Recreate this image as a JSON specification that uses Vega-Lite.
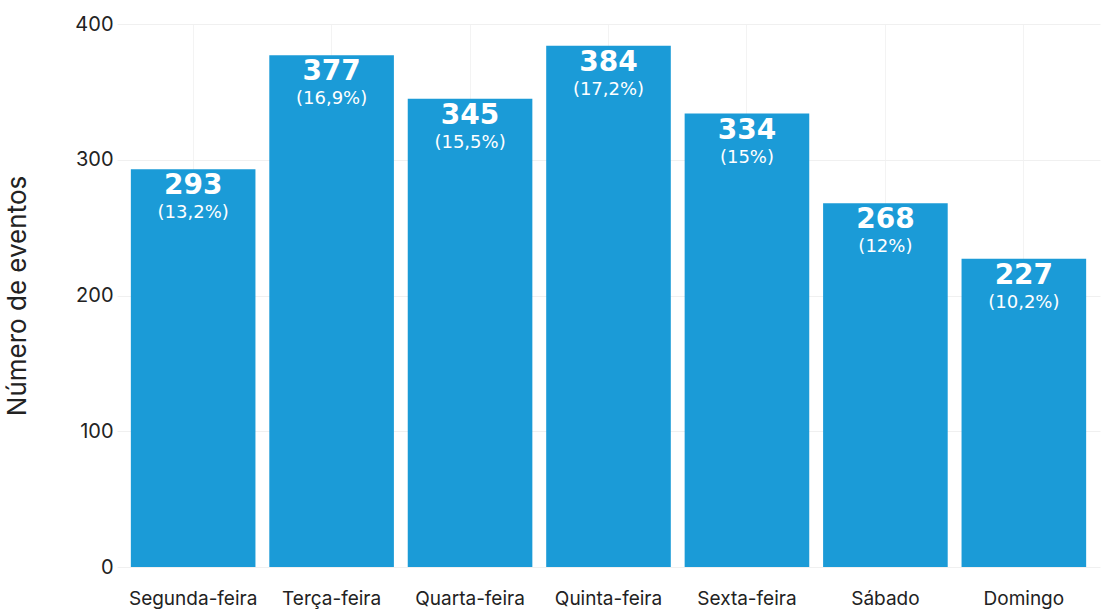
{
  "$schema": "https://vega.github.io/schema/vega-lite/v6.json",
  "width": 983,
  "height": 543,
  "autosize": "none",
  "padding": {"left": 117, "top": 24, "right": 3, "bottom": 46},
  "background": "white",
  "config": {"view": {"stroke": null}, "font": "Inter"},
  "data": {"values": [
    {"dia": "Segunda-feira", "n": 293, "pct": "(13,2%)"},
    {"dia": "Terça-feira", "n": 377, "pct": "(16,9%)"},
    {"dia": "Quarta-feira", "n": 345, "pct": "(15,5%)"},
    {"dia": "Quinta-feira", "n": 384, "pct": "(17,2%)"},
    {"dia": "Sexta-feira", "n": 334, "pct": "(15%)"},
    {"dia": "Sábado", "n": 268, "pct": "(12%)"},
    {"dia": "Domingo", "n": 227, "pct": "(10,2%)"}
  ]},
  "encoding": {
    "x": {"field": "dia", "type": "nominal", "sort": null,
      "scale": {"paddingInner": 0.1, "paddingOuter": 0.1},
      "axis": {"title": null, "labelAngle": 0, "labelFontSize": 19, "labelColor": "#222", "labelPadding": 22, "domain": false, "ticks": false, "grid": true, "gridColor": "#f3f3f3", "bandPosition": 0.5}},
    "y": {"field": "n", "type": "quantitative", "scale": {"domain": [0, 400]},
      "axis": {"title": "Número de eventos", "titleFontSize": 26, "titleFontWeight": "normal", "titleColor": "#222", "titlePadding": 44, "labelFontSize": 20, "labelColor": "#222", "labelPadding": 4, "values": [0, 100, 200, 300, 400], "domain": false, "ticks": false, "gridColor": "#f0f0f0"}}
  },
  "layer": [
    {"mark": {"type": "bar", "color": "#1b9bd7"}},
    {"mark": {"type": "text", "baseline": "middle", "dy": 17, "fontSize": 28, "fontWeight": "bold", "font": "DejaVu Sans", "color": "white"},
     "encoding": {"text": {"field": "n"}}},
    {"mark": {"type": "text", "baseline": "middle", "dy": 44, "fontSize": 18, "font": "DejaVu Sans", "color": "white"},
     "encoding": {"text": {"field": "pct"}}}
  ]
}
